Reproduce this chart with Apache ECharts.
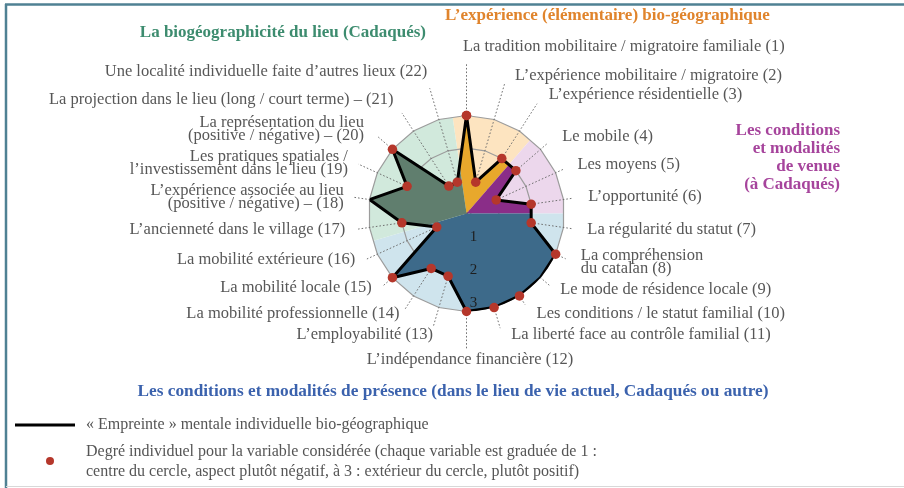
<!DOCTYPE html>
<html>
<head>
<meta charset="utf-8">
<script src="https://cdn.jsdelivr.net/npm/echarts@6/dist/echarts.min.js"></script>
<style>
  html, body { margin: 0; padding: 0; background: #ffffff; }
  #chart { width: 904px; height: 488px; }
</style>
</head>
<body>
<div id="chart"></div>
<script>
// ---- Variables of the bio-geographic footprint (clockwise from the top) ----
const axisNames = [
  'La tradition mobilitaire / migratoire familiale (1)',
  'L’expérience mobilitaire / migratoire (2)',
  'L’expérience résidentielle (3)',
  'Le mobile (4)',
  'Les moyens (5)',
  'L’opportunité (6)',
  'La régularité du statut (7)',
  'La compréhension\ndu catalan (8)',
  'Le mode de résidence locale (9)',
  'Les conditions / le statut familial (10)',
  'La liberté face au contrôle familial (11)',
  'L’indépendance financière (12)',
  'L’employabilité (13)',
  'La mobilité professionnelle (14)',
  'La mobilité locale (15)',
  'La mobilité extérieure (16)',
  'L’ancienneté dans le village (17)',
  'L’expérience associée au lieu\n(positive / négative) – (18)',
  'Les pratiques spatiales /\nl’investissement dans le lieu (19)',
  'La représentation du lieu\n(positive / négative) – (20)',
  'La projection dans le lieu (long / court terme) – (21)',
  'Une localité individuelle faite d’autres lieux (22)'
];

// Individual degree for each variable (1 = centre, 3 = outer ring)
const degrees = [3, 1, 2, 2, 1, 2, 2, 3, 3, 3, 3, 3, 2, 2, 3, 1, 2, 3, 2, 3, 1, 1];

// Thematic groups: first and last variable index of each
const groupTitles = [
  'L’expérience (élémentaire) bio-géographique',
  'Les conditions\net modalités\nde venue\n(à Cadaqués)',
  'Les conditions et modalités de présence (dans le lieu de vie actuel, Cadaqués ou autre)',
  'La biogéographicité du lieu (Cadaqués)'
];
const groupFirst = [0, 3, 6, 16];
const groupLast = [2, 5, 15, 21];

const scaleTicks = [1, 2, 3];

const legendLine = '« Empreinte » mentale individuelle bio-géographique';
const legendDot = 'Degré individuel pour la variable considérée (chaque variable est graduée de 1 :\ncentre du cercle, aspect plutôt négatif, à 3 : extérieur du cercle, plutôt positif)';

// ---- Layout & styles ----
const N = axisNames.length;
const MAXV = 3;
const R_PX = 98;
const CENTER = [466.5, 213.5];
const toV = px => px / R_PX * MAXV;

const lightFill = ['#fde4c0', '#ecd7ec', '#cfe4ed', '#d1e9dc'];
const darkFill = ['#e8a82c', '#8a2d88', '#3d6a8a', '#607e6e'];
const titleColor = ['#e0842c', '#a6449c', '#3b62ad', '#3d8c6f'];

// label anchor distance (px from centre), horizontal nudge, leader end (px)
const labelR = [166.5, 144, 141, 118, 117, 117, 116, 118, 116, 119.5, 126.5, 146.5,
                126, 118.5, 114, 112, 116.5, 118, 120.5, 128.5, 135, 148];
const labelDx = [-3.5, 8, 6, 6.5, 4.5, 6, 6, 7, 6, 5.5, 9, 3.5,
                 2, -3, -8.5, -9.5, -6, -6, -9, -5.5, 0, 2.5];
const leaderR = [150, 135.5, 130.5, 108, 107, 107, 108, 109, 109.5, 108.5, 119.5, 136.5,
                 118, 115, 110.5, 109.5, 109.5, 114.5, 119, 118.5, 119.5, 130.5];
const labelAlign = i => (i <= 10 ? 'left' : (i === 11 ? 'center' : 'right'));

const SERIF = '"Liberation Serif", "DejaVu Serif", serif';
const labelFont = '16.5px ' + SERIF;
const titleFont = 'bold 17px ' + SERIF;

const wrap = i => ((i % N) + N) % N;

function dataPoint(api, i) { return api.coord([degrees[wrap(i)], i]); }

// point where the footprint outline crosses the ray halfway between axes a and a+1
function cutPoint(api, a) {
  const p1 = dataPoint(api, a), p2 = dataPoint(api, a + 1);
  const v1 = degrees[wrap(a)], v2 = degrees[wrap(a + 1)];
  const t = v1 / (v1 + v2);
  return [p1[0] + t * (p2[0] - p1[0]), p1[1] + t * (p2[1] - p1[1])];
}

function renderSectors(params, api) {
  const g = params.dataIndex;
  const c = api.coord([0, 0]);
  const a = groupFirst[g], b = groupLast[g];
  const mid = (p, q) => [(p[0] + q[0]) / 2, (p[1] + q[1]) / 2];
  const pts = [c, mid(api.coord([MAXV, a - 1]), api.coord([MAXV, a]))];
  for (let i = a; i <= b; i++) pts.push(api.coord([MAXV, i]));
  pts.push(mid(api.coord([MAXV, b]), api.coord([MAXV, b + 1])));
  return { type: 'polygon', shape: { points: pts }, style: { fill: lightFill[g] } };
}

function renderGrid(params, api) {
  const c = api.coord([0, 0]);
  const children = [];
  scaleTicks.forEach(v => {
    const pts = [];
    for (let i = 0; i < N; i++) pts.push(api.coord([v, i]));
    children.push({ type: 'polygon', shape: { points: pts },
      style: { fill: null, stroke: '#9c9c9c', lineWidth: 1.2 } });
  });
  for (let i = 0; i < N; i++) {
    const e = api.coord([toV(leaderR[i]), i]);
    children.push({ type: 'line', shape: { x1: c[0], y1: c[1], x2: e[0], y2: e[1] },
      style: { stroke: '#6f6f6f', lineWidth: 1, lineDash: [1.6, 2] } });
  }
  return { type: 'group', children };
}

function renderFills(params, api) {
  const g = params.dataIndex;
  const a = groupFirst[g], b = groupLast[g];
  const pts = [api.coord([0, 0]), cutPoint(api, a - 1)];
  for (let i = a; i <= b; i++) pts.push(dataPoint(api, i));
  pts.push(cutPoint(api, b));
  return { type: 'polygon', shape: { points: pts }, style: { fill: darkFill[g] } };
}

function renderLabels(params, api) {
  const i = params.dataIndex;
  const p = api.coord([toV(labelR[i]), i]);
  return { type: 'text', x: p[0] + labelDx[i], y: p[1],
    style: { text: axisNames[i], fill: '#575757', font: labelFont,
      align: labelAlign(i), verticalAlign: 'middle', lineHeight: 13 } };
}

// ring values written just inside their ring, along the lower axis
function renderTicks(params, api) {
  const v = scaleTicks[params.dataIndex];
  const p = api.coord([v - 0.27, N / 2]);
  return { type: 'text', x: p[0] + 7, y: p[1],
    style: { text: String(v), fill: '#1e1e1e', font: '15px ' + SERIF,
      align: 'center', verticalAlign: 'middle' } };
}

const outline = degrees.map((v, i) => [v, i]).concat([[degrees[0], N]]);

const option = {
  animation: false,
  backgroundColor: '#ffffff',
  polar: { center: CENTER, radius: R_PX },
  angleAxis: { type: 'value', min: 0, max: N, startAngle: 90, clockwise: true, show: false },
  radiusAxis: { type: 'value', min: 0, max: MAXV, show: false },
  series: [
    { type: 'custom', coordinateSystem: 'polar', silent: true, clip: false, z: 1,
      data: groupFirst.map((f, g) => [0, g]), renderItem: renderSectors },
    { type: 'custom', coordinateSystem: 'polar', silent: true, clip: false, z: 2,
      data: [[0, 0]], renderItem: renderGrid },
    { type: 'custom', coordinateSystem: 'polar', silent: true, clip: false, z: 3,
      data: groupFirst.map((f, g) => [0, g]), renderItem: renderFills },
    { type: 'line', coordinateSystem: 'polar', silent: true, z: 4,
      data: outline, symbol: 'circle', symbolSize: 9.5, showSymbol: true,
      lineStyle: { color: '#000000', width: 3, join: 'round' },
      itemStyle: { color: '#b5372b', borderWidth: 0 } },
    { type: 'custom', coordinateSystem: 'polar', silent: true, clip: false, z: 5,
      data: scaleTicks.map((t, k) => [t, k]), renderItem: renderTicks },
    { type: 'custom', coordinateSystem: 'polar', silent: true, clip: false, z: 5,
      data: axisNames.map((n, i) => [0, i]), renderItem: renderLabels }
  ],
  graphic: [
    // frame
    { type: 'line', shape: { x1: 5, y1: 4.5, x2: 904, y2: 4.5 }, style: { stroke: '#4f8193', lineWidth: 2.5 } },
    { type: 'line', shape: { x1: 6, y1: 4, x2: 6, y2: 488 }, style: { stroke: '#4f8193', lineWidth: 2.5 } },
    { type: 'line', shape: { x1: 6, y1: 486.5, x2: 904, y2: 486.5 }, style: { stroke: '#d8d8d8', lineWidth: 1 } },
    // group titles
    { type: 'text', x: 445, y: 16, style: { text: groupTitles[0], fill: titleColor[0], font: titleFont, align: 'left', verticalAlign: 'middle' } },
    { type: 'text', x: 840, y: 158, style: { text: groupTitles[1], fill: titleColor[1], font: titleFont, align: 'right', verticalAlign: 'middle', lineHeight: 18 } },
    { type: 'text', x: 453, y: 392, style: { text: groupTitles[2], fill: titleColor[2], font: 'bold 17.3px ' + SERIF, align: 'center', verticalAlign: 'middle' } },
    { type: 'text', x: 426, y: 33, style: { text: groupTitles[3], fill: titleColor[3], font: titleFont, align: 'right', verticalAlign: 'middle' } },
    // legend
    { type: 'line', shape: { x1: 15, y1: 425, x2: 75, y2: 425 }, style: { stroke: '#000000', lineWidth: 3 } },
    { type: 'text', x: 86, y: 425, style: { text: legendLine, fill: '#555555', font: '16px ' + SERIF, align: 'left', verticalAlign: 'middle' } },
    { type: 'circle', shape: { cx: 50, cy: 461, r: 4 }, style: { fill: '#b5372b' } },
    { type: 'text', x: 86, y: 462, style: { text: legendDot, fill: '#555555', font: '16px ' + SERIF, align: 'left', verticalAlign: 'middle', lineHeight: 20 } }
  ]
};

const chart = echarts.init(document.getElementById('chart'));
chart.setOption(option);
</script>
</body>
</html>
